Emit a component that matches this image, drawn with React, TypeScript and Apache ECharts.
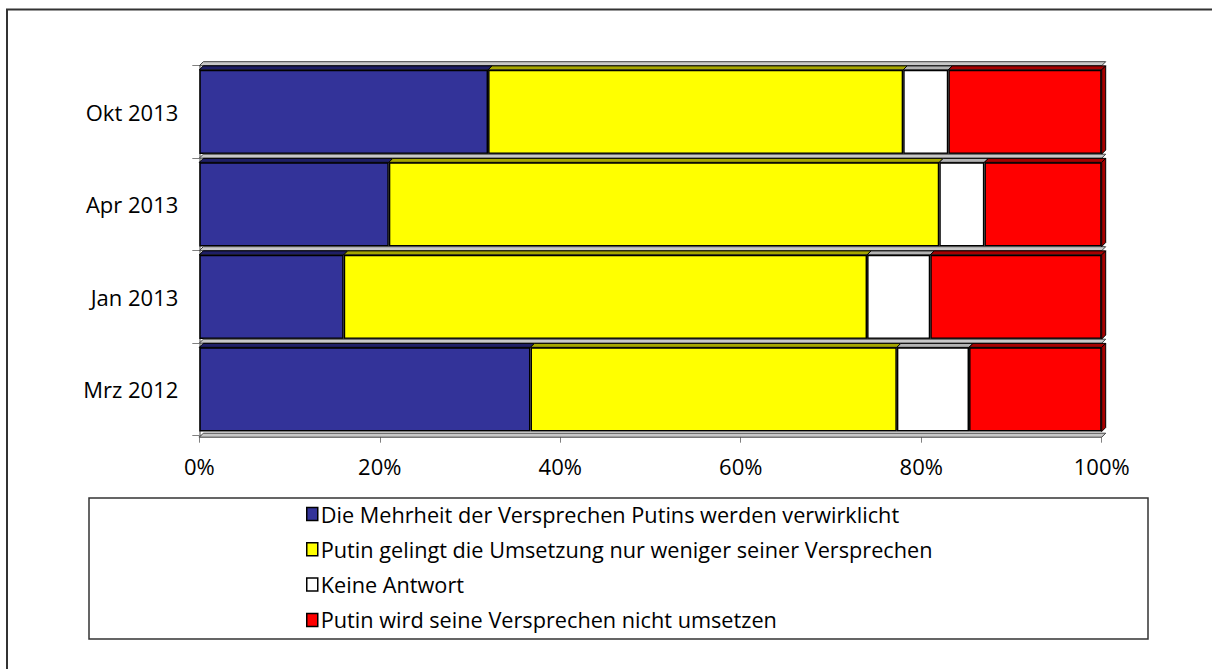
import React, { useEffect, useRef } from "react";
import * as echarts from "echarts";

const categories = ["Mrz 2012", "Jan 2013", "Apr 2013", "Okt 2013"];
const seriesNames = [
  "Die Mehrheit der Versprechen Putins werden verwirklicht",
  "Putin gelingt die Umsetzung nur weniger seiner Versprechen",
  "Keine Antwort",
  "Putin wird seine Versprechen nicht umsetzen",
];
const mehrheit = [36.7, 16, 21, 32];
const wenige = [40.6, 58, 61, 46];
const keineAntwort = [8, 7, 5, 5];
const nicht = [14.7, 19, 13, 17];
const frontColors = ["#333399", "#FFFF00", "#FFFFFF", "#FF0000"];
const topColors = ["#1f1f66", "#a6a600", "#b3b3b3", "#a60000"];

const FONT = "Open Sans";

export default function App() {
  const ref = useRef<HTMLDivElement>(null);
  useEffect(() => {
    if (!ref.current) return;
    const chart = echarts.init(ref.current, null, { renderer: "svg" });
    const valuesBySeries = [mehrheit, wenige, keineAntwort, nicht];
    const barSeries = valuesBySeries.map((arr, s) => ({
      name: seriesNames[s],
      type: "bar",
      stack: "total",
      barWidth: "91%",
      data: arr,
      itemStyle: { color: frontColors[s], borderColor: "#000", borderWidth: 1.5 },
      z: 2,
    }));
    const deco = {
      type: "custom",
      name: "deco",
      silent: true,
      z: 3,
      encode: { x: 0, y: 1 },
      data: categories.map((_, i) => [0, i]),
      renderItem: (params: any, api: any) => {
        const idx = api.value(1);
        const band = api.size([0, 1])[1];
        const barH = band * 0.91;
        const c0 = api.coord([0, idx]);
        const cy = c0[1];
        const xa = c0[0];
        const xb = api.coord([100, idx])[0];
        const yTop = cy - barH / 2;
        const yBot = cy + barH / 2;
        const bTop = cy - band / 2;
        const bBot = cy + band / 2;
        const d = 4;
        const children: any[] = [];
        const strip = (y: number) => ({
          type: "polygon",
          shape: { points: [[xa, y], [xb, y], [xb + d, y - d], [xa + d, y - d]] },
          style: { fill: "#c8c8c8", stroke: "#404040", lineWidth: 1 },
        });
        children.push(strip(bTop));
        if (idx === 0) children.push(strip(bBot + 1.5));
        let acc = 0;
        valuesBySeries.forEach((arr, s) => {
          const v0 = acc;
          acc += arr[idx];
          const x0 = api.coord([v0, idx])[0];
          const x1 = api.coord([acc, idx])[0];
          children.push({
            type: "polygon",
            shape: { points: [[x0, yTop], [x1, yTop], [x1 + d, yTop - d], [x0 + d, yTop - d]] },
            style: { fill: topColors[s], stroke: "#000", lineWidth: 1 },
          });
        });
        children.push({
          type: "polygon",
          shape: { points: [[xb, yTop], [xb + d, yTop - d], [xb + d, yBot - d], [xb, yBot]] },
          style: { fill: "#a60000", stroke: "#000", lineWidth: 1 },
        });
        return { type: "group", children };
      },
    };
    chart.setOption({
      animation: false,
      backgroundColor: "#fff",
      textStyle: { fontFamily: FONT },
      grid: { left: 199.3, right: 110.3, top: 65.7, bottom: 233.3, containLabel: false },
      xAxis: {
        type: "value",
        min: 0,
        max: 100,
        interval: 20,
        axisLine: { show: true, lineStyle: { color: "#808080", width: 1.5 } },
        axisTick: { show: true, length: 7, lineStyle: { color: "#808080" } },
        splitLine: { show: false },
        axisLabel: { formatter: "{value}%", color: "#000", fontSize: 22, fontFamily: FONT, margin: 19 },
      },
      yAxis: {
        type: "category",
        data: categories,
        axisLine: { show: true, lineStyle: { color: "#808080", width: 1.5 } },
        axisTick: { show: true, length: 7, lineStyle: { color: "#808080" } },
        axisLabel: { color: "#000", fontSize: 22, fontFamily: FONT, margin: 21 },
      },
      legend: {
        data: seriesNames,
        orient: "vertical",
        left: 301,
        top: 498,
        itemGap: 13.3,
        itemWidth: 11,
        itemHeight: 13,
        icon: "rect",
        itemStyle: { borderColor: "#000", borderWidth: 1.5 },
        textStyle: { color: "#000", fontSize: 21.7, fontFamily: FONT, lineHeight: 21, padding: [0, 0, 0, -2] },
        selectedMode: false,
      },
      graphic: [
        {
          type: "rect",
          shape: { x: 7, y: 9.5, width: 1230, height: 700 },
          style: { fill: "none", stroke: "#333", lineWidth: 2 },
          z: -1,
        },
        {
          type: "rect",
          shape: { x: 89, y: 498, width: 1059, height: 141 },
          style: { fill: "none", stroke: "#333", lineWidth: 1.5 },
          z: -1,
        },
      ],
      series: [...barSeries, deco],
    });
    return () => chart.dispose();
  }, []);
  return <div ref={ref} style={{ position: "fixed", left: 0, top: 0, width: 1212, height: 669 }} />;
}
